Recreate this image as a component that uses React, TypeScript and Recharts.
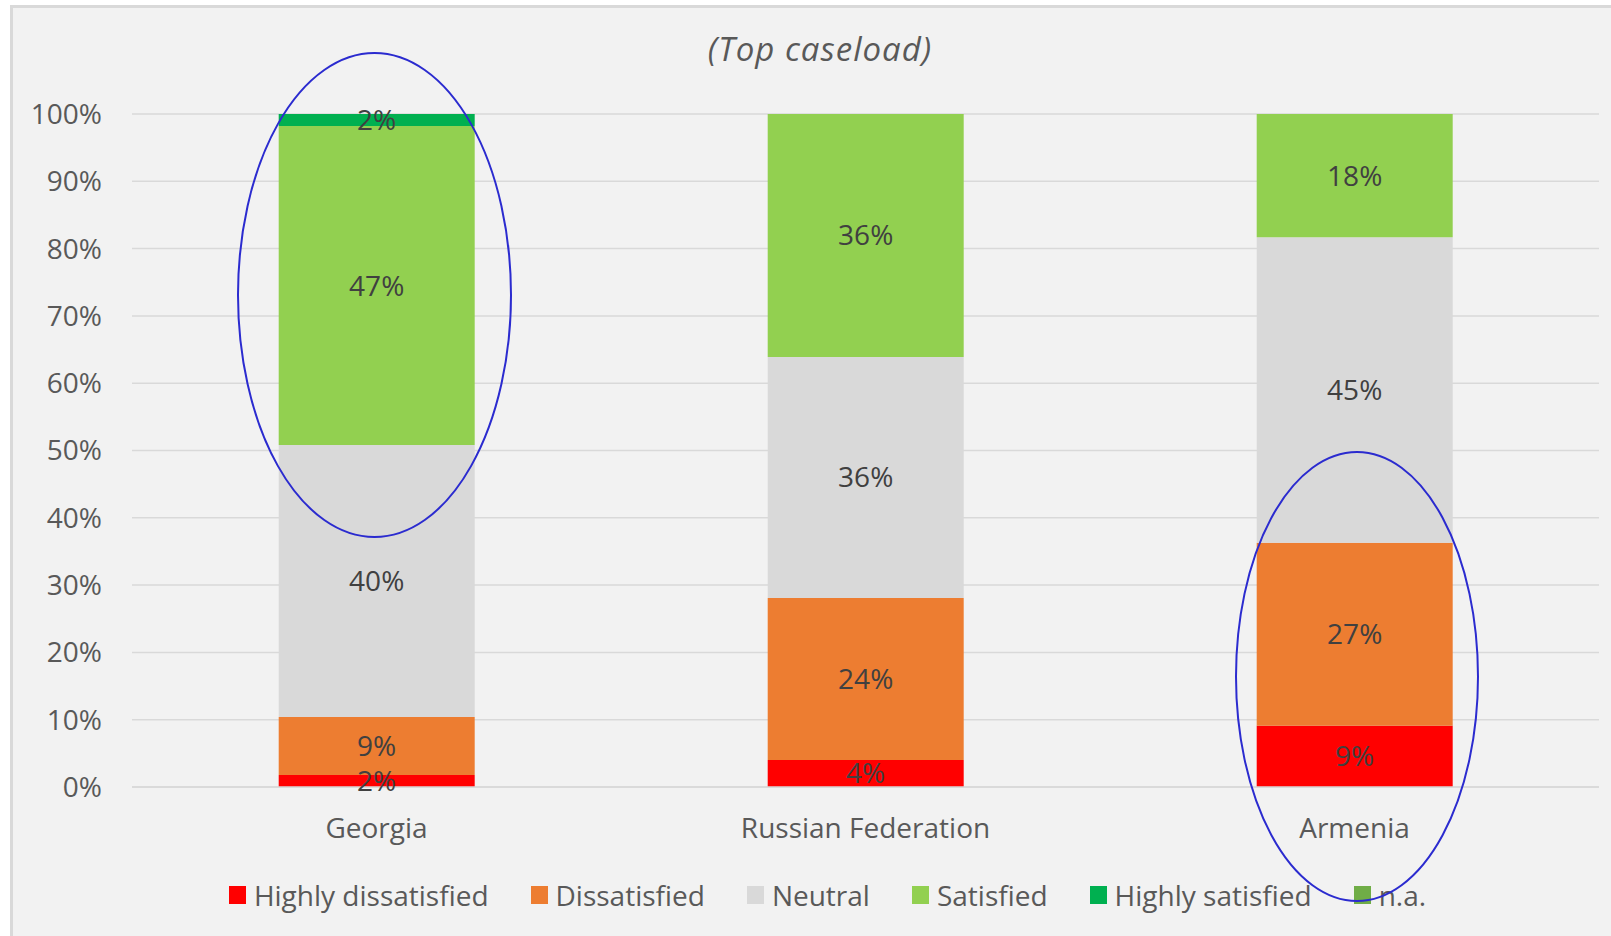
import React from 'react';
import { BarChart, Bar, XAxis, YAxis, CartesianGrid, LabelList, Legend } from 'recharts';

const categories = ['Georgia', 'Russian Federation', 'Armenia'];
const highlyDissatisfied = [1.8, 4.0, 9.1];
const dissatisfied = [8.6, 24.1, 27.2];
const neutral = [40.4, 35.8, 45.4];
const satisfied = [47.4, 36.1, 18.3];
const highlySatisfied = [1.8, 0, 0];
const notAvailable = [0, 0, 0];
const yTicks = [0, 10, 20, 30, 40, 50, 60, 70, 80, 90, 100];
const title = '(Top caseload)';

const series = [
  { key: 'hd', name: 'Highly dissatisfied', values: highlyDissatisfied, color: '#FF0000' },
  { key: 'd', name: 'Dissatisfied', values: dissatisfied, color: '#ED7D31' },
  { key: 'n', name: 'Neutral', values: neutral, color: '#D9D9D9' },
  { key: 's', name: 'Satisfied', values: satisfied, color: '#92D050' },
  { key: 'hs', name: 'Highly satisfied', values: highlySatisfied, color: '#00B050' },
  { key: 'na', name: 'n.a.', values: notAvailable, color: '#70AD47' },
];

const data = categories.map((c, i) => {
  const row: any = { category: c };
  series.forEach((s) => {
    row[s.key] = s.values[i];
  });
  return row;
});

const FONT = '"Open Sans", Lato, sans-serif';
const FS = 28;

const renderLegend = () => (
  <div
    style={{
      display: 'flex',
      justifyContent: 'center',
      alignItems: 'center',
      fontFamily: FONT,
      fontSize: FS,
      color: '#595959',
      whiteSpace: 'nowrap',
      height: 40,
    }}
  >
    {series.map((s, i) => (
      <div key={s.key} style={{ display: 'flex', alignItems: 'center', marginLeft: i === 0 ? 0 : 42 }}>
        <span style={{ width: 17, height: 18, background: s.color, marginRight: 8, display: 'inline-block' }} />
        <span>{s.name}</span>
      </div>
    ))}
  </div>
);

export default function App() {
  return (
    <div
      style={{
        position: 'absolute',
        left: 0,
        top: 0,
        width: 1611,
        height: 936,
        overflow: 'hidden',
        background: '#ffffff',
        fontFamily: FONT,
      }}
    >
      <div
        style={{
          position: 'absolute',
          left: 10,
          top: 5,
          width: 1700,
          height: 1000,
          background: '#F2F2F2',
          borderLeft: '3px solid #D9D9D9',
          borderTop: '3px solid #D9D9D9',
        }}
      />
      <div style={{ position: 'absolute', left: 0, top: 0 }}>
        <BarChart
          width={1611}
          height={936}
          data={data}
          margin={{ top: 114, right: 12, left: 0, bottom: 89 }}
          barCategoryGap="30%"
          style={{ fontFamily: FONT }}
        >
          <CartesianGrid vertical={false} stroke="#D9D9D9" strokeWidth={1.5} />
          <XAxis
            dataKey="category"
            height={60}
            tickLine={false}
            tickSize={0}
            tickMargin={31}
            axisLine={{ stroke: '#D9D9D9', strokeWidth: 1.5 }}
            tick={{ fill: '#595959', fontSize: FS, fontFamily: FONT }}
          />
          <YAxis
            width={132}
            domain={[0, 100]}
            ticks={yTicks}
            tickFormatter={(v: number) => `${v}%`}
            axisLine={false}
            tickLine={false}
            tickSize={0}
            tickMargin={30}
            tick={{ fill: '#595959', fontSize: FS, fontFamily: FONT }}
          />
          <Legend
            layout="horizontal"
            verticalAlign="middle"
            align="center"
            content={renderLegend}
            wrapperStyle={{ top: 875, left: 22, width: 1611, height: 40 }}
          />
          {series.map((s) => (
            <Bar key={s.key} dataKey={s.key} name={s.name} stackId="a" fill={s.color} isAnimationActive={false}>
              <LabelList
                dataKey={s.key}
                position="center"
                formatter={(v: any) => (Number(v) > 0 ? `${Math.round(Number(v))}%` : '')}
                fill="#404040"
                fontSize={FS}
                style={{ fontFamily: FONT }}
              />
            </Bar>
          ))}
        </BarChart>
      </div>
      <div
        style={{
          position: 'absolute',
          left: 520,
          top: 31,
          width: 600,
          textAlign: 'center',
          fontStyle: 'italic',
          fontSize: 33,
          letterSpacing: 1,
          lineHeight: '36px',
          color: '#595959',
          fontFamily: FONT,
        }}
      >
        {title}
      </div>
      <svg
        width={1611}
        height={936}
        style={{ position: 'absolute', left: 0, top: 0, pointerEvents: 'none' }}
      >
        <ellipse cx={374.5} cy={295} rx={136.5} ry={242} fill="none" stroke="#2B2BCF" strokeWidth={2} />
        <ellipse cx={1357} cy={676.5} rx={121} ry={224.5} fill="none" stroke="#2B2BCF" strokeWidth={2} />
      </svg>
    </div>
  );
}
